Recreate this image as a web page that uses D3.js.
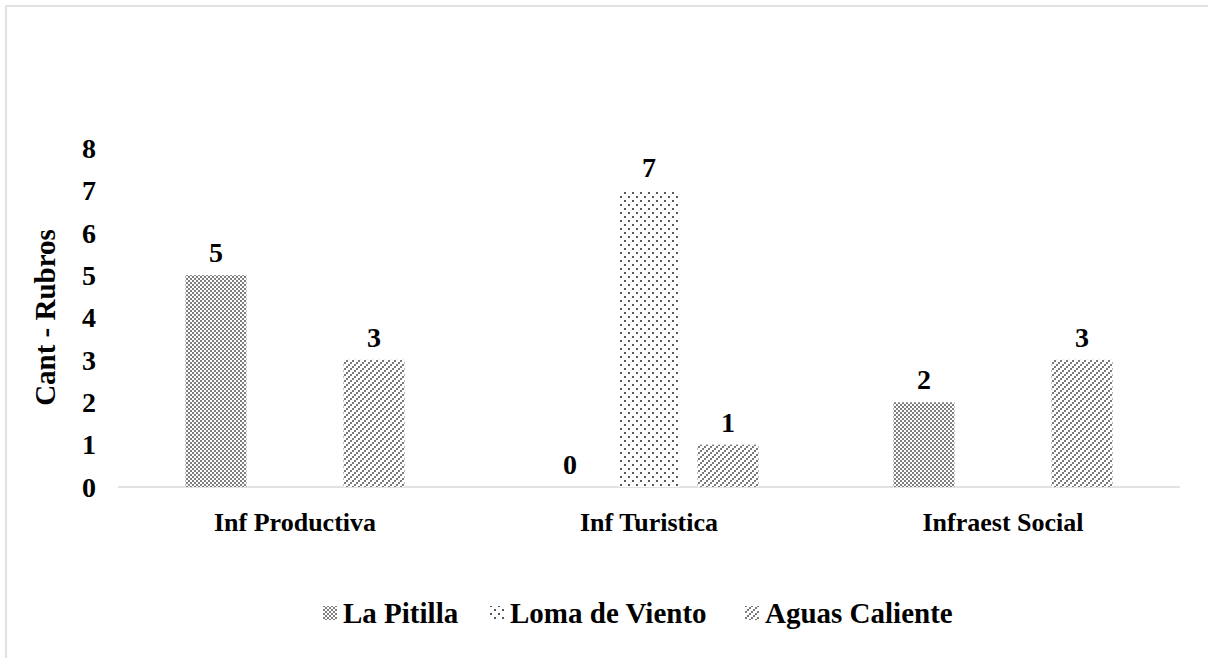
<!DOCTYPE html>
<html>
<head>
<meta charset="utf-8">
<script src="https://cdn.jsdelivr.net/npm/d3@7"></script>
<style>
  body { margin: 0; background: #fff; }
  svg { display: block; }
  text { font-family: "Liberation Serif", "Times New Roman", serif; font-weight: bold; fill: #000; }
</style>
</head>
<body>
<div id="chart"></div>
<script>
// data
var categories = ["Inf Productiva", "Inf Turistica", "Infraest Social"]
var series = ["La Pitilla", "Loma de Viento", "Aguas Caliente"]
var laPitilla = [5, 0, 2]
var lomaViento = [null, 7, null]
var aguasCaliente = [3, 1, 3]
var yTicks = [0, 1, 2, 3, 4, 5, 6, 7, 8]

var values = [laPitilla, lomaViento, aguasCaliente]

var W = 1208, H = 658

var svg = d3.select("#chart").append("svg")
  .attr("width", W)
  .attr("height", H)

// patterns
var defs = svg.append("defs")

// checker
var p1 = defs.append("pattern").attr("id", "pat0")
  .attr("patternUnits", "userSpaceOnUse").attr("width", 4).attr("height", 4)
p1.append("rect").attr("width", 4).attr("height", 4).attr("fill", "#fff")
p1.append("rect").attr("x", 0).attr("y", 0).attr("width", 2).attr("height", 2).attr("fill", "#7f7f7f")
p1.append("rect").attr("x", 2).attr("y", 2).attr("width", 2).attr("height", 2).attr("fill", "#7f7f7f")

// sparse dots
var p2 = defs.append("pattern").attr("id", "pat1")
  .attr("patternUnits", "userSpaceOnUse").attr("width", 8).attr("height", 8)
p2.append("rect").attr("width", 8).attr("height", 8).attr("fill", "#fff")
p2.append("rect").attr("x", 0).attr("y", 0).attr("width", 2).attr("height", 2).attr("fill", "#595959")
p2.append("rect").attr("x", 4).attr("y", 4).attr("width", 2).attr("height", 2).attr("fill", "#595959")

// stair diagonals
var p3 = defs.append("pattern").attr("id", "pat2")
  .attr("patternUnits", "userSpaceOnUse").attr("width", 6).attr("height", 6)
p3.append("rect").attr("width", 6).attr("height", 6).attr("fill", "#fff")
p3.selectAll("rect.s").data([[0, 4], [2, 2], [4, 0]]).join("rect")
  .attr("class", "s")
  .attr("x", d => d[0]).attr("y", d => d[1])
  .attr("width", 2).attr("height", 2).attr("fill", "#7a7a7a")

// frame
svg.append("rect")
  .attr("x", 6).attr("y", 6)
  .attr("width", W + 20).attr("height", H + 20)
  .attr("fill", "none")
  .attr("stroke", "#d9d9d9")
  .attr("stroke-width", 1.5)

var plotLeft = 118, plotRight = 1180, plotTop = 148, plotBottom = 487

var x0 = d3.scaleBand().domain(categories).range([plotLeft, plotRight]).padding(0)
var x1 = d3.scaleBand().domain(series).range([0, x0.bandwidth()])
  .paddingInner(0.228).paddingOuter(0.854)
var y = d3.scaleLinear().domain([0, 8]).range([plotBottom, plotTop])

// y tick labels
svg.append("g").selectAll("text")
  .data(yTicks)
  .join("text")
  .attr("x", 96)
  .attr("y", d => y(d))
  .attr("dy", "0.35em")
  .attr("text-anchor", "end")
  .style("font-size", "28px")
  .text(d => d)

// y title
svg.append("text")
  .attr("transform", "translate(55," + ((plotTop + plotBottom) / 2) + ") rotate(-90)")
  .attr("text-anchor", "middle")
  .style("font-size", "29px")
  .text("Cant - Rubros")

// axis line
svg.append("line")
  .attr("x1", plotLeft).attr("x2", plotRight)
  .attr("y1", y(0)).attr("y2", y(0))
  .attr("stroke", "#d9d9d9")
  .attr("stroke-width", 1.5)

// bars
var rows = []
categories.forEach(function (c, i) {
  series.forEach(function (s, j) {
    if (values[j][i] != null) rows.push({ cat: c, ser: s, idx: j, v: values[j][i] })
  })
})

svg.append("g").selectAll("rect")
  .data(rows)
  .join("rect")
  .attr("x", d => x0(d.cat) + x1(d.ser))
  .attr("y", d => y(d.v))
  .attr("width", x1.bandwidth())
  .attr("height", d => y(0) - y(d.v))
  .attr("fill", d => "url(#pat" + d.idx + ")")

svg.append("g").selectAll("text")
  .data(rows)
  .join("text")
  .attr("x", d => x0(d.cat) + x1(d.ser) + x1.bandwidth() / 2)
  .attr("y", d => y(d.v) - 13)
  .attr("text-anchor", "middle")
  .style("font-size", "28px")
  .text(d => d.v)

// category labels
svg.append("g").selectAll("text")
  .data(categories)
  .join("text")
  .attr("x", d => x0(d) + x0.bandwidth() / 2)
  .attr("y", 531)
  .attr("text-anchor", "middle")
  .style("font-size", "26px")
  .text(d => d)

// legend
var legendX = [323, 490, 745]
var lg = svg.append("g").selectAll("g")
  .data(series)
  .join("g")
  .attr("transform", (d, i) => "translate(" + legendX[i] + ",613)")
lg.append("rect")
  .attr("x", 0).attr("y", -7)
  .attr("width", 14).attr("height", 14)
  .attr("fill", (d, i) => "url(#pat" + i + ")")
lg.append("text")
  .attr("x", 20)
  .attr("dy", "0.35em")
  .style("font-size", "29px")
  .text(d => d)
</script>
</body>
</html>
